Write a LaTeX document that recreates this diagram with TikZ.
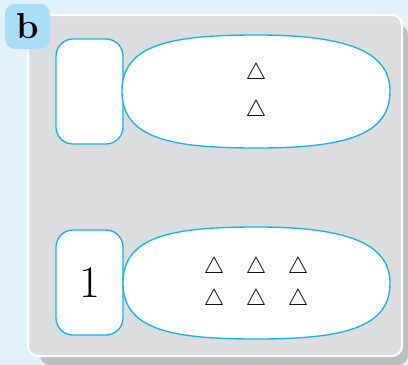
\documentclass[tikz,border=0pt]{standalone}
\usetikzlibrary{positioning}
\definecolor{pagebg}{HTML}{E1F2FA}
\definecolor{tagblue}{HTML}{A9DEF7}
\definecolor{panelgray}{HTML}{DCDDDE}
\definecolor{panelshadow}{HTML}{BDBEC0}
\definecolor{setline}{HTML}{1AB1E8}
\begin{document}
\begin{tikzpicture}[x=0.75pt, y=-0.75pt,
	numbox/.style={shape=rectangle, draw=setline, line width=1pt, fill=white, rounded corners=12.75pt, minimum width=50.25pt, minimum height=78.75pt, inner sep=0pt, font=\fontsize{34}{34}\selectfont},
	setshape/.style={draw=setline, line width=1pt, fill=white},
	tri/.style={inner sep=0pt, font=\fontsize{18}{18}\selectfont},
	tagbox/.style={shape=rectangle, fill=tagblue, rounded corners=7.5pt, minimum width=33.75pt, minimum height=33.75pt, inner sep=0pt, font=\fontsize{27}{27}\selectfont\bfseries}]
	\useasboundingbox (0,0) rectangle (408,365);
	% Paths, nodes and wires:
	\fill[pagebg] (0,0) rectangle (408,365);
	\fill[panelshadow, rounded corners=7.5pt] (40,25) rectangle (408,365);
	\draw[white, line width=1.5pt, fill=panelgray, rounded corners=7.5pt] (28,15) rectangle (402,356);
	\node[tagbox] (tag) at (27.5,26.5) {b};
	% top row
	\node[numbox] (topnum) at (89.5,91.5) {};
	\draw[setshape] (122,91) .. controls (122,44) and (172,35) .. (257,35) .. controls (348,35) and (390,52) .. (390,91) .. controls (390,134) and (348,148) .. (257,148) .. controls (172,148) and (122,139) .. cycle;
	\node[tri] (topa) at (256,74) {$\triangle$};
	\node[tri] (topb) at (256,111) {$\triangle$};
	% bottom row
	\node[numbox] (botnum) at (89.5,282.5) {1};
	\draw[setshape] (123,283) .. controls (123,236) and (172,227) .. (257,227) .. controls (348,227) and (390,244) .. (390,283) .. controls (390,326) and (348,339) .. (257,339) .. controls (172,339) and (123,330) .. cycle;
	\node[tri] (bota) at (214,268) {$\triangle$};
	\node[tri] (botb) at (256,268) {$\triangle$};
	\node[tri] (botc) at (298,268) {$\triangle$};
	\node[tri] (botd) at (214,300) {$\triangle$};
	\node[tri] (bote) at (256,300) {$\triangle$};
	\node[tri] (botf) at (298,300) {$\triangle$};
\end{tikzpicture}
\end{document}
